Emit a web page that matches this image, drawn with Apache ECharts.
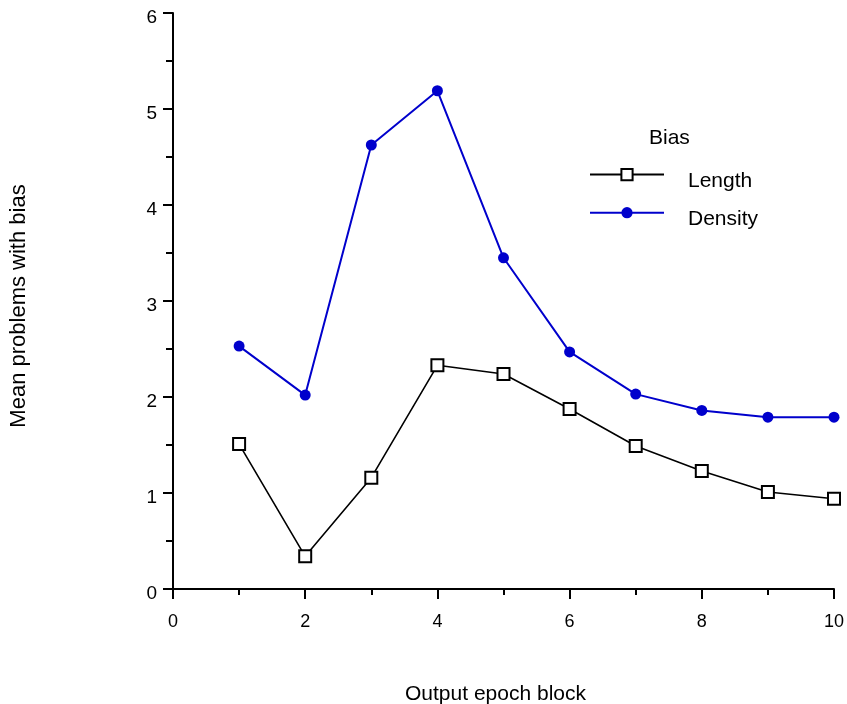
<!DOCTYPE html>
<html><head><meta charset="utf-8">
<script src="https://cdn.jsdelivr.net/npm/echarts@6/dist/echarts.min.js"></script>
<style>html,body{margin:0;padding:0;background:#fff}#c{width:847px;height:704px}</style>
</head><body><div id="c"></div>
<script>
const blocks = [1,2,3,4,5,6,7,8,9,10];
const lengthVals = [1.51,0.34,1.16,2.33,2.24,1.875,1.49,1.23,1.01,0.94];
const densityVals = [2.53,2.02,4.625,5.19,3.45,2.47,2.03,1.86,1.79,1.79];
const xTicks = [0,2,4,6,8,10];
const yTicks = [0,1,2,3,4,5,6];
const font = 'Liberation Sans, Arial, sans-serif';
const chart = echarts.init(document.getElementById('c'));
chart.setOption({
  animation:false,
  grid:{left:173,top:13,width:661,height:576,outerBoundsMode:'none',containLabel:false},
  title:{text:'Bias',left:644,top:123,textStyle:{fontFamily:font,fontSize:21,fontWeight:'normal',color:'#000'}},
  legend:{orient:'vertical',left:584,top:163,itemWidth:74,itemHeight:14,itemGap:15,
    formatter:n=>'{t|'+n+'}',
    textStyle:{fontFamily:font,fontSize:21,color:'#000',padding:[0,0,0,19],
      rich:{t:{fontFamily:font,fontSize:21,color:'#000',padding:[14,0,0,0]}}},
    data:['Length','Density']},
  xAxis:{type:'value',min:0,max:10,interval:2,
    name:'Output epoch block',nameLocation:'middle',nameGap:95,
    nameTextStyle:{fontFamily:font,fontSize:21,color:'#000',padding:[0,16,0,0]},
    axisLine:{lineStyle:{color:'#000',width:2}},
    axisTick:{length:10,lineStyle:{color:'#000',width:2}},
    minorTick:{show:true,splitNumber:2,length:6,lineStyle:{color:'#000',width:2}},
    splitLine:{show:false},
    axisLabel:{fontFamily:font,fontSize:18,color:'#000',margin:24,
      formatter:v=>xTicks.includes(v)?String(v):''}},
  yAxis:{type:'value',min:0,max:6,interval:1,
    name:'Mean problems with bias',nameLocation:'middle',nameGap:143,nameRotate:90,
    nameTextStyle:{fontFamily:font,fontSize:22,color:'#000',padding:[0,10,0,0]},
    axisLine:{show:true,lineStyle:{color:'#000',width:2}},
    axisTick:{show:true,length:10,lineStyle:{color:'#000',width:2}},
    minorTick:{show:true,splitNumber:2,length:7,lineStyle:{color:'#000',width:2}},
    splitLine:{show:false},
    axisLabel:{fontFamily:font,fontSize:19,color:'#000',margin:16,
      formatter:v=>yTicks.includes(v)?'{v|'+v+'}':'',
      rich:{v:{fontFamily:font,fontSize:19,color:'#000',padding:[10,0,0,0]}}}},
  series:[
    {name:'Length',type:'line',data:blocks.map((b,i)=>[b,lengthVals[i]]),
      symbol:'rect',symbolSize:12,
      lineStyle:{color:'#000',width:1.6},
      itemStyle:{color:'#fff',borderColor:'#000',borderWidth:2},z:3},
    {name:'Density',type:'line',data:blocks.map((b,i)=>[b,densityVals[i]]),
      symbol:'circle',symbolSize:11,
      lineStyle:{color:'#0000cc',width:2},
      itemStyle:{color:'#0000cc',borderWidth:0},z:2}
  ]
});
</script></body></html>
